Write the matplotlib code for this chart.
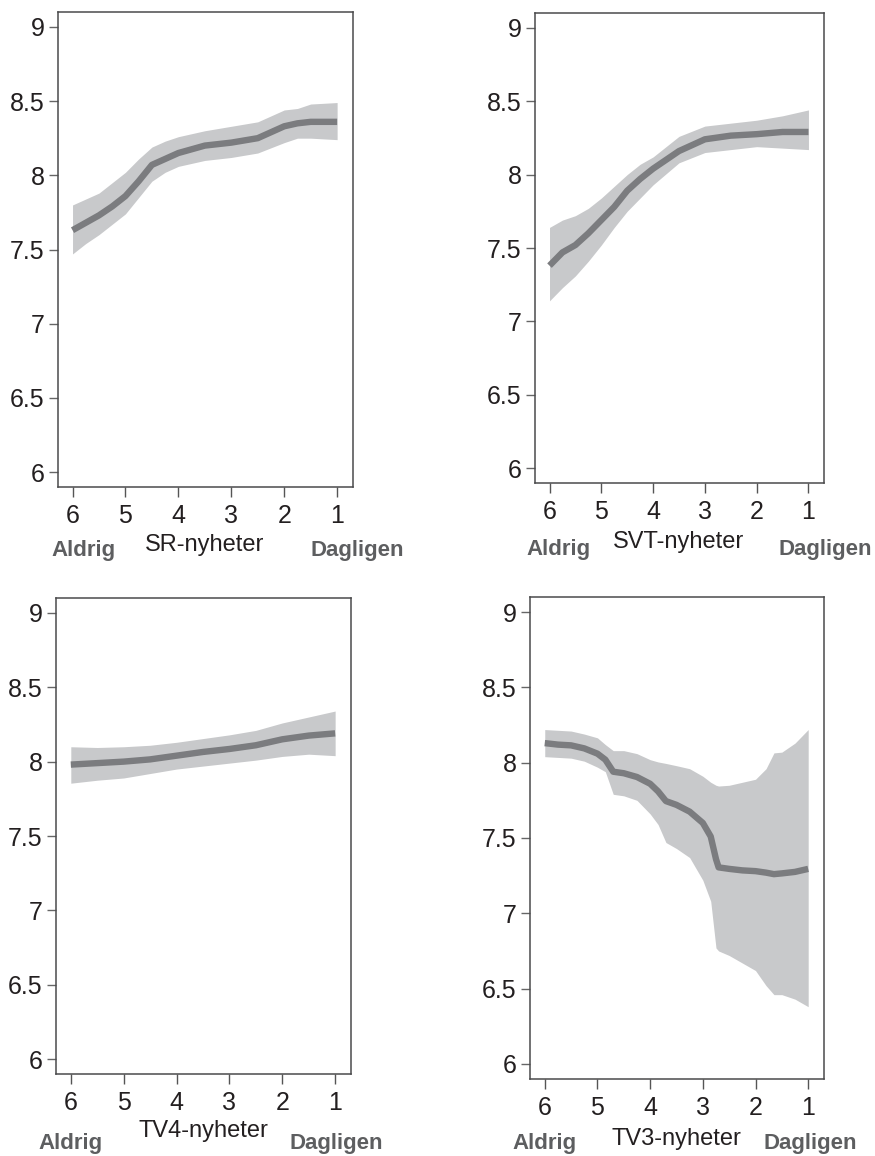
import matplotlib
matplotlib.use("Agg")
import matplotlib.pyplot as plt

plt.rcParams['font.family'] = ['Liberation Sans', 'DejaVu Sans']

# frequency of news use, 6 = never ... 1 = daily
sr_x = [6, 5.75, 5.5, 5.25, 5, 4.75, 4.5, 4.25, 4, 3.5, 3, 2.5, 2, 1.75, 1.5, 1]
sr_mean = [7.63, 7.68, 7.73, 7.79, 7.86, 7.96, 8.07, 8.11, 8.15, 8.20, 8.22, 8.25, 8.33, 8.35, 8.36, 8.36]
sr_hi = [7.80, 7.84, 7.88, 7.95, 8.02, 8.11, 8.19, 8.23, 8.26, 8.30, 8.33, 8.36, 8.44, 8.45, 8.48, 8.49]
sr_lo = [7.47, 7.54, 7.60, 7.67, 7.74, 7.85, 7.96, 8.02, 8.06, 8.10, 8.12, 8.15, 8.22, 8.25, 8.25, 8.24]

svt_x = [6, 5.75, 5.5, 5.25, 5, 4.75, 4.5, 4.25, 4, 3.5, 3, 2.5, 2, 1.5, 1]
svt_mean = [7.38, 7.47, 7.52, 7.60, 7.69, 7.78, 7.89, 7.97, 8.04, 8.16, 8.24, 8.265, 8.275, 8.29, 8.29]
svt_hi = [7.64, 7.69, 7.72, 7.77, 7.84, 7.92, 8.00, 8.07, 8.12, 8.26, 8.33, 8.35, 8.37, 8.40, 8.44]
svt_lo = [7.14, 7.23, 7.31, 7.41, 7.52, 7.64, 7.75, 7.84, 7.93, 8.08, 8.15, 8.17, 8.19, 8.18, 8.17]

tv4_x = [6, 5.5, 5, 4.5, 4, 3.5, 3, 2.5, 2, 1.5, 1]
tv4_mean = [7.98, 7.99, 8.00, 8.015, 8.04, 8.065, 8.085, 8.11, 8.15, 8.175, 8.19]
tv4_hi = [8.10, 8.095, 8.10, 8.11, 8.13, 8.155, 8.18, 8.21, 8.26, 8.30, 8.34]
tv4_lo = [7.855, 7.875, 7.89, 7.92, 7.95, 7.97, 7.99, 8.01, 8.035, 8.05, 8.04]

tv3_x = [6, 5.75, 5.5, 5.25, 5, 4.85, 4.7, 4.5, 4.25, 4, 3.85, 3.7, 3.5, 3.25, 3,
         2.85, 2.75, 2.7, 2.5, 2.25, 2, 1.8, 1.65, 1.5, 1.25, 1]
tv3_mean = [8.13, 8.12, 8.115, 8.095, 8.06, 8.02, 7.94, 7.93, 7.905, 7.86, 7.81, 7.745, 7.72, 7.675, 7.60,
            7.51, 7.36, 7.305, 7.295, 7.285, 7.28, 7.27, 7.26, 7.265, 7.275, 7.295]
tv3_hi = [8.22, 8.215, 8.21, 8.19, 8.165, 8.12, 8.08, 8.08, 8.06, 8.02, 8.005, 7.995, 7.98, 7.96, 7.91,
          7.87, 7.85, 7.845, 7.85, 7.87, 7.89, 7.96, 8.065, 8.07, 8.13, 8.22]
tv3_lo = [8.04, 8.035, 8.03, 8.01, 7.97, 7.94, 7.79, 7.78, 7.75, 7.66, 7.59, 7.47, 7.43, 7.37, 7.22,
          7.08, 6.77, 6.75, 6.72, 6.67, 6.62, 6.52, 6.46, 6.46, 6.43, 6.38]

titles = ['SR-nyheter', 'SVT-nyheter', 'TV4-nyheter', 'TV3-nyheter']
x_ticks = [6, 5, 4, 3, 2, 1]
y_ticks = [6, 6.5, 7, 7.5, 8, 8.5, 9]
y_ticklabels = ['6', '6.5', '7', '7.5', '8', '8.5', '9']

W, H = 875, 1156
fig = plt.figure(figsize=(W / 100, H / 100), dpi=100)

# box in pixels: x0, x1, y0, y1 ; label offsets below box (aldrig/dagligen, title)
panels = [
    ((57.7, 353, 12, 487), 63, 58, 5.8, 0.62, sr_x, sr_mean, sr_hi, sr_lo),
    ((535, 824, 13, 483), 67, 59, 5.83, 0.67, svt_x, svt_mean, svt_hi, svt_lo),
    ((56, 351, 598, 1074), 69, 57, 6.0, 0.97, tv4_x, tv4_mean, tv4_hi, tv4_lo),
    ((530, 824, 597, 1079), 64, 60, 6.0, 0.97, tv3_x, tv3_mean, tv3_hi, tv3_lo),
]

for i, (box, off_end, off_title, ald_x, dag_x, xs, mean, hi, lo) in enumerate(panels):
    x0, x1, y0, y1 = box
    ax = fig.add_axes([x0 / W, 1 - y1 / H, (x1 - x0) / W, (y1 - y0) / H])
    ax.fill_between(xs, lo, hi, color='#c8c9cb', linewidth=0)
    ax.plot(xs, mean, color='#7b7c7f', linewidth=4.6, solid_capstyle='butt',
            solid_joinstyle='round')
    ax.set_xlim(6.28, 0.70)
    ax.set_ylim(5.9, 9.1)
    ax.set_xticks(x_ticks)
    ax.set_yticks(y_ticks)
    ax.set_yticklabels(y_ticklabels)
    for s in ax.spines.values():
        s.set_color('#4a4a4c')
        s.set_linewidth(1.1)
    ax.tick_params(axis='y', length=6.5, width=1.0, color='#666666', pad=3,
                   labelsize=18, labelcolor='#231f20')
    ax.tick_params(axis='x', length=7, width=1.0, color='#555555', pad=5,
                   labelsize=18, labelcolor='#231f20')

    ax.annotate('Aldrig', xy=(ald_x, 0), xycoords=('data', 'axes fraction'),
                xytext=(0, -off_end), textcoords='offset pixels',
                ha='center', va='center', fontsize=16, fontweight='bold',
                color='#5d5e60')
    ax.annotate('Dagligen', xy=(dag_x, 0), xycoords=('data', 'axes fraction'),
                xytext=(0, -off_end), textcoords='offset pixels',
                ha='center', va='center', fontsize=16, fontweight='bold',
                color='#5d5e60')
    ax.annotate(titles[i], xy=(3.5, 0), xycoords=('data', 'axes fraction'),
                xytext=(0, -off_title), textcoords='offset pixels',
                ha='center', va='center', fontsize=17, color='#231f20')

fig.savefig('out.png', dpi=100)
